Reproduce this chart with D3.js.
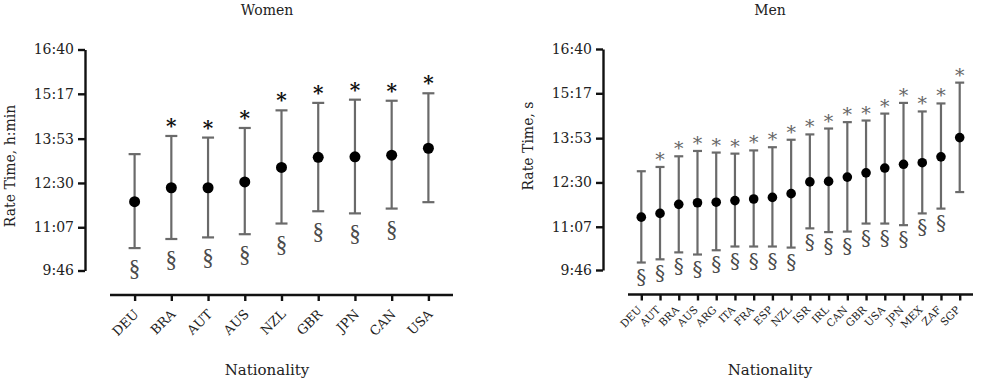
<!DOCTYPE html>
<html>
<head>
<meta charset="utf-8">
<script src="https://cdn.jsdelivr.net/npm/d3@7"></script>
<style>
  html, body { margin: 0; padding: 0; background: #fff; }
  svg text { font-family: "DejaVu Serif", "Liberation Serif", serif; }
</style>
</head>
<body>
<svg id="chart" width="1000" height="380"></svg>
<script>
// ---- data (minutes) ----
const tickValues = [586, 667, 750, 833, 917, 1000];
const tickLabels = ["9:46", "11:07", "12:30", "13:53", "15:17", "16:40"];

const womenCats  = ["DEU", "BRA", "AUT", "AUS", "NZL", "GBR", "JPN", "CAN", "USA"];
const womenMean  = [715, 741, 741, 752, 779, 798, 799, 802, 815];
const womenUpper = [804, 838, 835, 853, 886, 900, 906, 904, 918];
const womenLower = [628, 645, 648, 654, 674, 697, 693, 702, 714];
const womenStar  = [false, true, true, true, true, true, true, true, true];
const womenSect  = [true, true, true, true, true, true, true, true, false];

const menCats  = ["DEU", "AUT", "BRA", "AUS", "ARG", "ITA", "FRA", "ESP", "NZL",
                  "ISR", "IRL", "CAN", "GBR", "USA", "JPN", "MEX", "ZAF", "SGP"];
const menMean  = [685, 692, 709, 712, 713, 716, 719, 722, 729, 751, 752, 760, 768, 777, 784, 787, 798, 834];
const menUpper = [771, 779, 799, 809, 806, 804, 810, 816, 830, 840, 851, 863, 866, 879, 899, 883, 898, 937];
const menLower = [600, 606, 619, 615, 623, 630, 630, 630, 628, 664, 657, 658, 673, 673, 670, 692, 701, 732];
const menStar  = [false, true, true, true, true, true, true, true, true, true, true, true, true, true, true, true, true, true];
const menSect  = [true, true, true, true, true, true, true, true, true, true, true, true, true, true, true, true, true, false];

const svg = d3.select("#chart");

function panel(opts) {
  const g = svg.append("g");
  const x = d3.scalePoint().domain(opts.cats).range(opts.xRange).padding(opts.pad);
  const y = d3.scaleLinear().domain([tickValues[0], tickValues[tickValues.length - 1]]).range(opts.yRange);

  // y axis
  const yAxis = d3.axisLeft(y).tickValues(tickValues).tickFormat((d, i) => tickLabels[i])
    .tickSizeInner(7).tickSizeOuter(0).tickPadding(4);
  const ya = g.append("g").attr("transform", `translate(${opts.yAxisX},0)`).call(yAxis);
  ya.select(".domain").attr("stroke", "#111").attr("stroke-width", 2.4);
  ya.selectAll(".tick line").attr("stroke", "#111").attr("stroke-width", 2.4);
  ya.selectAll(".tick text").attr("font-size", 14).attr("fill", "#222")
    .style("font-family", "'DejaVu Serif', serif");

  // x axis
  const xAxis = d3.axisBottom(x).tickSizeInner(6).tickSizeOuter(0).tickFormat("");
  const xa = g.append("g").attr("transform", `translate(0,${opts.xAxisY})`).call(xAxis);
  xa.select(".domain").attr("stroke", "#111").attr("stroke-width", 2.4)
    .attr("d", `M${opts.xRange[0]},0H${opts.xRange[1]}`);
  xa.selectAll(".tick line").attr("stroke", "#111").attr("stroke-width", 2.4);

  // rotated category labels
  g.append("g").selectAll("text").data(opts.cats).join("text")
    .attr("transform", d => `translate(${x(d) + opts.lblDx},${opts.xAxisY + opts.lblDy}) rotate(-45)`)
    .attr("text-anchor", "end")
    .attr("font-size", opts.lblSize)
    .attr("fill", "#222")
    .text(d => d);

  // error bars
  const idx = d3.range(opts.cats.length);
  const eb = g.append("g").attr("stroke", "#6a6a6a").attr("stroke-width", 2.2);
  eb.selectAll("line.v").data(idx).join("line").attr("class", "v")
    .attr("x1", i => x(opts.cats[i])).attr("x2", i => x(opts.cats[i]))
    .attr("y1", i => y(opts.upper[i])).attr("y2", i => y(opts.lower[i]));
  eb.selectAll("line.u").data(idx).join("line").attr("class", "u")
    .attr("x1", i => x(opts.cats[i]) - opts.cap).attr("x2", i => x(opts.cats[i]) + opts.cap)
    .attr("y1", i => y(opts.upper[i])).attr("y2", i => y(opts.upper[i]));
  eb.selectAll("line.l").data(idx).join("line").attr("class", "l")
    .attr("x1", i => x(opts.cats[i]) - opts.cap).attr("x2", i => x(opts.cats[i]) + opts.cap)
    .attr("y1", i => y(opts.lower[i])).attr("y2", i => y(opts.lower[i]));

  // means
  g.append("g").selectAll("circle").data(idx).join("circle")
    .attr("cx", i => x(opts.cats[i])).attr("cy", i => y(opts.mean[i]))
    .attr("r", opts.r).attr("fill", "#000");

  // asterisks
  g.append("g").selectAll("text").data(idx.filter(i => opts.star[i])).join("text")
    .attr("x", i => x(opts.cats[i]))
    .attr("y", i => y(opts.upper[i]) - opts.starOff)
    .attr("text-anchor", "middle")
    .attr("font-size", opts.starSize)
    .attr("font-weight", opts.starWeight)
    .attr("fill", opts.starColor)
    .text("*");

  // section signs
  g.append("g").selectAll("text").data(idx.filter(i => opts.sect[i])).join("text")
    .attr("x", i => x(opts.cats[i]))
    .attr("y", i => y(opts.lower[i]) + opts.sectOff)
    .attr("text-anchor", "middle")
    .attr("font-size", opts.sectSize)
    .style("font-family", opts.sectFont)
    .attr("fill", "#4a4a4a")
    .text("§");

  // titles
  svg.append("text").attr("x", opts.titleX).attr("y", 15).attr("text-anchor", "middle")
    .attr("font-size", 14).attr("fill", "#222").text(opts.title);
  svg.append("text").attr("x", opts.titleX).attr("y", 375).attr("text-anchor", "middle")
    .attr("font-size", 15).attr("fill", "#222").text("Nationality");
  svg.append("text")
    .attr("transform", `translate(${opts.yLabX},${opts.yLabY}) rotate(-90)`)
    .attr("text-anchor", "middle").attr("font-size", 14).attr("fill", "#222")
    .text(opts.yLabel);
}

panel({
  cats: womenCats, mean: womenMean, upper: womenUpper, lower: womenLower,
  star: womenStar, sect: womenSect,
  xRange: [110, 453], pad: 0.67, yRange: [270.5, 49.5],
  yAxisX: 85, xAxisY: 295,
  lblDx: 5, lblDy: 20, lblSize: 13,
  cap: 6, r: 5.5,
  starOff: 3, starSize: 20, starWeight: "bold", starColor: "#111",
  sectOff: 28, sectSize: 23, sectFont: "'Liberation Serif', serif",
  title: "Women", titleX: 267, yLabel: "Rate Time, h:min", yLabX: 15, yLabY: 166
});

panel({
  cats: menCats, mean: menMean, upper: menUpper, lower: menLower,
  star: menStar, sect: menSect,
  xRange: [628, 973], pad: 0.71, yRange: [270, 49],
  yAxisX: 603, xAxisY: 294.5,
  lblDx: 1, lblDy: 16, lblSize: 10.5,
  cap: 4.5, r: 4.8,
  starOff: 1, starSize: 19, starWeight: "normal", starColor: "#666",
  sectOff: 21, sectSize: 20, sectFont: "'DejaVu Serif', serif",
  title: "Men", titleX: 770, yLabel: "Rate Time, s", yLabX: 533, yLabY: 146
});
</script>
</body>
</html>
